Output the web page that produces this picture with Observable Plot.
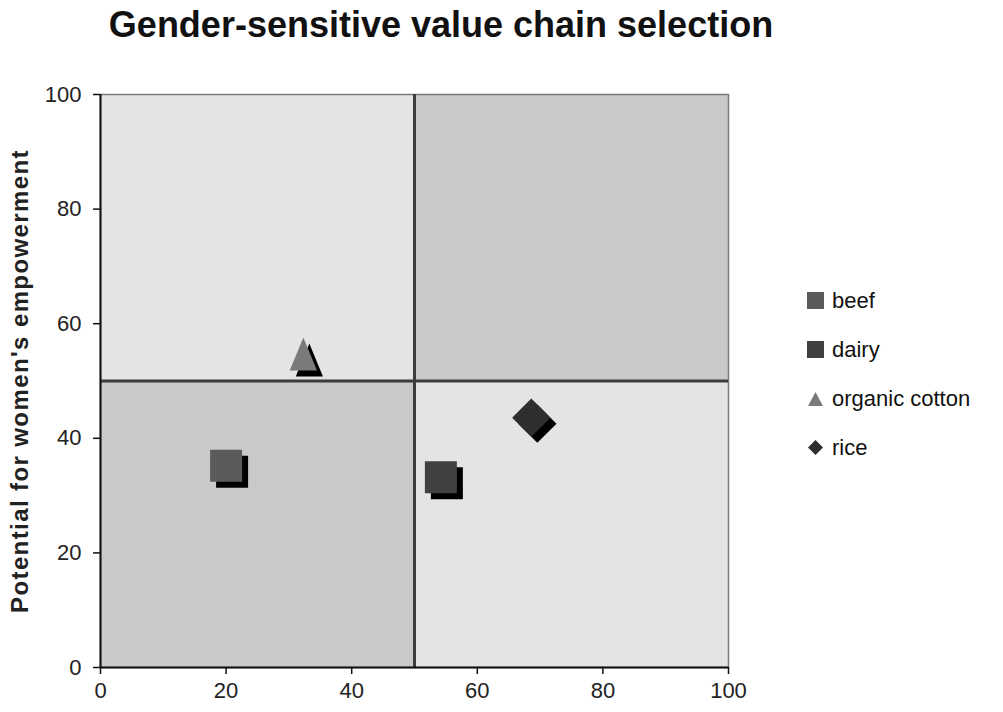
<!DOCTYPE html>
<html>
<head>
<meta charset="utf-8">
<script src="https://cdn.jsdelivr.net/npm/d3@7"></script>
<script src="https://cdn.jsdelivr.net/npm/@observablehq/plot@0.6"></script>
<style>
  body { margin: 0; background: #fff; font-family: Arial, "Liberation Sans", sans-serif; }
  #wrap { position: relative; width: 1003px; height: 712px; }
  #title { position: absolute; left: 0; width: 882px; top: 7px; line-height: 36px; text-align: center; font-weight: bold; font-size: 36px; color: #111; }
  #chart { position: absolute; left: 0; top: 60px; }
  #legend { position: absolute; left: 806px; top: 276px; font-size: 22px; color: #111; }
  .item { height: 49px; display: flex; align-items: center; }
  .item svg { margin-right: 7px; }
  g[aria-label="y-axis label"] text { font-weight: bold; font-size: 24px; letter-spacing: 1.4px; }
</style>
</head>
<body>
<div id="wrap">
  <div id="title">Gender-sensitive value chain selection</div>
  <div id="chart"></div>
  <div id="legend"></div>
</div>
<script>
// data
const series = ["beef", "dairy", "organic cotton", "rice"];
const xValues = [20, 54.2, 32.3, 68.6];
const yValues = [35.2, 33.2, 54.5, 43.6];
const shapes = ["square", "square", "triangle", "diamond"];
const colors = ["#5b5b5b", "#404040", "#7a7a7a", "#2e2e2e"];
const xTicks = [0, 20, 40, 60, 80, 100];
const yTicks = [0, 20, 40, 60, 80, 100];
const quadX1 = [0, 50, 0, 50];
const quadX2 = [50, 100, 50, 100];
const quadY1 = [50, 50, 0, 0];
const quadY2 = [100, 100, 50, 50];
const quadTone = ["light", "dark", "dark", "light"];
const divider = 50;

const toneFill = {light: "#e4e4e4", dark: "#c9c9c9"};
const quads = quadX1.map((x1, i) => ({x1, x2: quadX2[i], y1: quadY1[i], y2: quadY2[i], tone: quadTone[i]}));
const points = series.map((name, i) => ({name, x: xValues[i], y: yValues[i], shape: shapes[i], color: colors[i]}));

const symbolDefs = {
  square: {draw(ctx, size) { const s = Math.sqrt(size / Math.PI); ctx.rect(-s, -s, 2 * s, 2 * s); }},
  triangle: {draw(ctx, size) { const s = Math.sqrt(size / Math.PI); ctx.moveTo(0, -1.1 * s); ctx.lineTo(0.85 * s, 0.95 * s); ctx.lineTo(-0.85 * s, 0.95 * s); ctx.closePath(); }},
  diamond: {draw(ctx, size) { const s = Math.sqrt(size / Math.PI) * 1.2; ctx.moveTo(0, -s); ctx.lineTo(s, 0); ctx.lineTo(0, s); ctx.lineTo(-s, 0); ctx.closePath(); }}
};
const sym = d => symbolDefs[d.shape];

const chart = Plot.plot({
  width: 1003,
  height: 652,
  marginLeft: 100,
  marginRight: 275,
  marginTop: 34,
  marginBottom: 45,
  style: {fontFamily: "Arial, 'Liberation Sans', sans-serif", fontSize: "22px", color: "#222", background: "transparent"},
  x: {domain: [0, 100]},
  y: {domain: [0, 100]},
  marks: [
    Plot.rect(quads, {x1: "x1", x2: "x2", y1: "y1", y2: "y2", fill: d => toneFill[d.tone]}),
    Plot.frame({stroke: "#7a7a7a", strokeWidth: 1.5}),
    Plot.ruleX([divider], {stroke: "#3c3c3c", strokeWidth: 3}),
    Plot.ruleY([divider], {stroke: "#3c3c3c", strokeWidth: 3}),
    Plot.ruleX([0], {stroke: "#111", strokeWidth: 2}),
    Plot.ruleY([0], {stroke: "#111", strokeWidth: 2}),
    Plot.axisX({ticks: xTicks, tickSize: 7, tickPadding: 8, fontSize: 22, label: null, stroke: "#111", strokeWidth: 1.5, fill: "#222"}),
    Plot.axisY({ticks: yTicks, tickSize: 7, tickPadding: 12, fontSize: 22, label: "Potential for women's empowerment", labelAnchor: "center", labelArrow: false, labelOffset: 90, stroke: "#111", strokeWidth: 1.5, fill: "#222"}),
    Plot.dot(points, {x: "x", y: "y", symbol: sym, r: 16, fill: "#000", stroke: "none", dx: 6, dy: 6}),
    Plot.dot(points, {x: "x", y: "y", symbol: sym, r: 16, fill: "color", stroke: "none"})
  ]
});
document.getElementById("chart").appendChild(chart);

// legend
const legend = document.getElementById("legend");
const legendPaths = {
  square: '<rect x="1" y="1" width="17" height="17"/>',
  triangle: '<path d="M9.5,3 L17,17 L2,17 Z"/>',
  diamond: '<path d="M9.5,2 L17,9.5 L9.5,17 L2,9.5 Z"/>'
};
points.forEach(p => {
  const div = document.createElement("div");
  div.className = "item";
  div.innerHTML = `<svg width="19" height="19" fill="${p.color}">${legendPaths[p.shape]}</svg><span>${p.name}</span>`;
  legend.appendChild(div);
});
</script>
</body>
</html>
